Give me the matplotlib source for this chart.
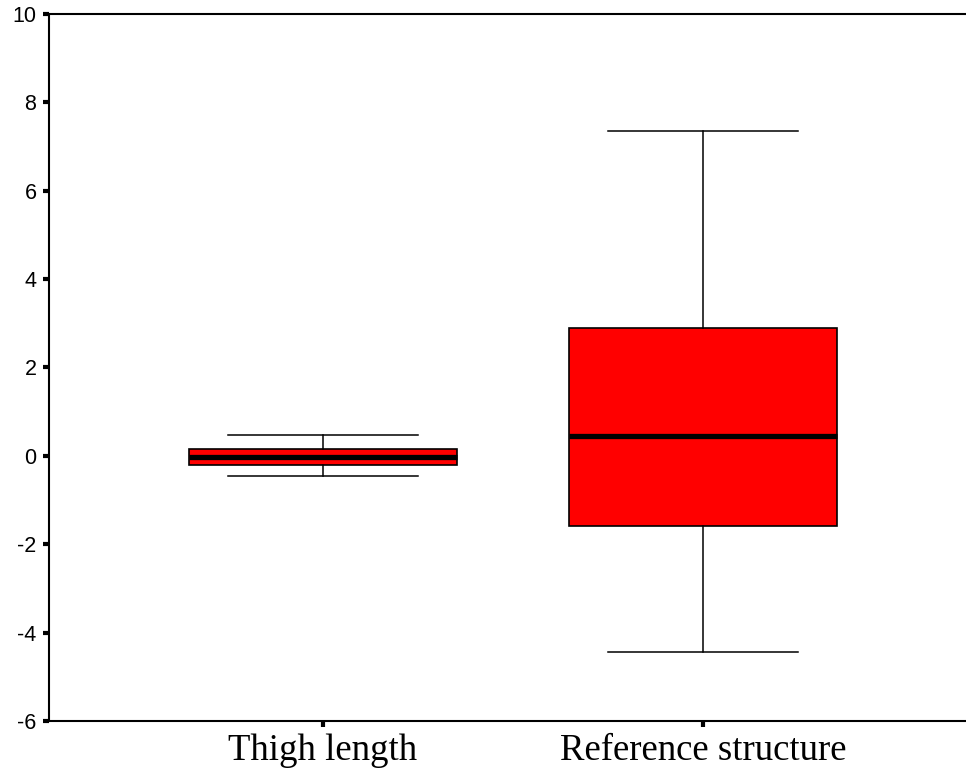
import matplotlib.pyplot as plt

# values
labels = ['Thigh length', 'Reference structure']
whislo = [-0.45, -4.44]
q1 = [-0.21, -1.59]
med = [-0.02, 0.45]
q3 = [0.16, 2.89]
whishi = [0.47, 7.35]
yticks = [-6, -4, -2, 0, 2, 4, 6, 8, 10]

fig = plt.figure(figsize=(9.66, 7.74), dpi=100)
ax = fig.add_axes([0.0507, 0.0685, 0.9493, 0.9135])

stats = []
for i in range(len(labels)):
    stats.append({'label': labels[i], 'whislo': whislo[i], 'q1': q1[i],
                  'med': med[i], 'q3': q3[i], 'whishi': whishi[i], 'fliers': []})

ax.bxp(stats, positions=[1, 2], widths=0.705, capwidths=0.5,
       patch_artist=True, showfliers=False,
       boxprops=dict(facecolor='#ff0000', edgecolor='black', linewidth=1.2),
       medianprops=dict(color='black', linewidth=3.8, solid_capstyle='butt'),
       whiskerprops=dict(color='black', linewidth=1.1),
       capprops=dict(color='black', linewidth=1.1))

ax.set_xlim(0.279, 2.692)
ax.set_ylim(-6, 10)
ax.set_yticks(yticks)
ax.set_yticklabels([str(t) for t in yticks], family='Liberation Sans', fontsize=15.5)
ax.set_xticks([1, 2])
ax.set_xticklabels(labels, family='Liberation Serif', fontsize=26.5)

ax.spines['right'].set_visible(False)
for s in ['left', 'top', 'bottom']:
    ax.spines[s].set_linewidth(1.5)
ax.tick_params(axis='both', direction='out', length=4, width=3, color='black')
ax.tick_params(axis='y', pad=5)
ax.tick_params(axis='x', pad=5)

fig.savefig('out.png', dpi=100)
